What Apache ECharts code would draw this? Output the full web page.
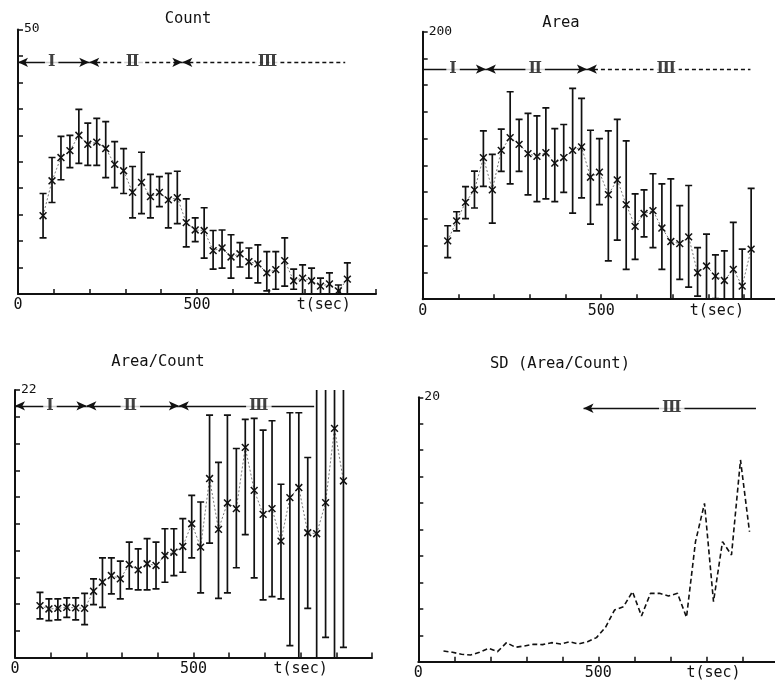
<!DOCTYPE html>
<html><head><meta charset="utf-8">
<script src="https://cdn.jsdelivr.net/npm/echarts@6/dist/echarts.min.js"></script>
<style>html,body{margin:0;padding:0;background:#fff}#c{width:775px;height:684px}</style>
</head><body><div id="c"></div>
<script>
// ---------- data ----------
const times = [70,95,120,145,170,195,220,245,270,295,320,345,370,395,420,445,470,495,520,545,570,595,620,645,670,695,720,745,770,795,820,845,870,895,920];

const countMean = [14.8,21.4,25.8,27.1,30.0,28.3,28.7,27.5,24.5,23.3,19.2,21.1,18.4,19.2,17.8,18.2,13.5,12.1,12.0,8.2,8.7,7.0,7.6,6.1,5.7,4.0,4.6,6.3,2.5,3.0,2.5,1.5,1.9,0.6,2.8];
const countHigh = [19.0,25.8,29.8,30.0,34.9,32.3,33.2,32.6,28.8,27.5,24.1,26.8,22.6,22.2,22.8,23.2,18.0,14.4,16.3,12.0,12.1,11.2,9.7,8.7,9.3,8.0,8.0,10.6,4.7,5.5,4.9,3.0,4.0,1.7,5.9];
const countLow  = [10.6,17.3,21.6,23.9,24.7,24.3,24.3,22.0,20.1,19.0,14.4,15.2,14.4,16.5,12.5,13.3,8.9,9.9,6.8,4.7,4.9,3.0,5.1,3.0,2.1,0.6,0.9,1.5,0.9,0,0,0,0,0,0];

const areaMean = [43.6,58.6,72.4,81.7,105.8,81.7,111.3,120.8,115.8,108.8,106.8,109.5,101.7,105.8,111.3,113.8,91.2,95.0,78.2,89.2,70.7,54.4,64.1,66.2,53.2,43.1,41.6,46.6,19.8,24.8,17.3,14.0,22.3,9.8,37.4];
const areaHigh = [54.9,65.4,84.2,95.7,125.8,108.3,127.1,155.1,134.4,138.9,137.1,143.1,127.6,130.6,157.7,150.1,126.3,120.1,125.8,134.4,118.3,78.7,81.7,93.8,86.2,90.0,69.9,85.0,38.6,48.6,33.1,36.1,57.4,37.4,82.9];
const areaLow  = [31.1,51.1,60.2,68.2,84.4,56.9,95.5,86.2,95.5,78.0,72.9,75.0,72.9,79.9,64.4,75.7,56.2,70.7,28.6,44.1,22.3,29.8,46.6,38.6,22.3,0,14.8,9.0,2.3,0,0.5,0,0,0,0];

const ratioMean = [4.27,3.99,4.04,4.13,4.08,4.04,5.45,6.19,6.74,6.47,7.65,7.21,7.71,7.57,8.39,8.66,9.13,11.0,9.08,14.72,10.54,12.71,12.24,17.28,13.75,11.77,12.24,9.57,13.15,13.98,10.26,10.18,12.74,18.84,14.52];
const ratioHigh = [5.36,4.82,4.82,4.90,4.90,5.28,6.47,8.20,8.20,7.92,9.49,8.94,9.77,9.49,10.59,10.59,11.42,13.34,12.79,19.94,16.04,19.94,17.19,19.59,19.67,18.70,19.47,14.25,20.13,20.13,16.45,26,26,26,26];
const ratioLow  = [3.17,3.03,3.09,3.30,3.09,2.70,4.35,4.13,5.23,4.82,5.64,5.56,5.56,5.64,6.19,6.74,7.01,8.20,5.31,9.41,4.87,5.31,7.38,10.10,6.55,4.74,5.01,4.82,0.97,0,4.04,0,1.65,0,0.83];

const sdValues = [0.81,0.71,0.56,0.51,0.71,1.01,0.76,1.44,1.09,1.19,1.32,1.29,1.44,1.34,1.51,1.34,1.51,1.82,2.60,3.91,4.16,5.30,3.46,5.17,5.17,4.97,5.17,3.36,9.08,11.98,4.54,9.08,8.07,15.26,9.83];

const titles = ['Count','Area','Area/Count','SD (Area/Count)'];
const yMaxes = [50, 200, 22, 20];
const yIntervals = [5, 20, 2.2, 2];
const xTickLabels = ['0','500','t(sec)'];

// phase annotations: boundaries in seconds, level in axis units
const phaseLevel = [43.8, 172, 20.7, 19.17];
const phaseBounds1 = [0, 199, 459, 914];
const phaseBounds2 = [0, 177, 460, 918];
const phaseBounds3 = [0, 200, 459, 838];
const phaseBounds4 = [459, 938];
const phaseNames = ['Ⅰ','Ⅱ','Ⅲ'];
const phaseLabelAt1 = [94, 320, 697];
const phaseLabelAt2 = [85, 315, 682];
const phaseLabelAt3 = [98, 323, 683];
const phaseLabelAt4 = [704];

// ---------- styles ----------
const INK = '#111';
const FONT = 'DejaVu Sans Mono';
const grids = [
  {left:18, top:29.5, width:358, height:264.5},
  {left:422.7, top:31.7, width:357, height:267.5},
  {left:15, top:390, width:357, height:267.5},
  {left:418.3, top:397.3, width:360, height:264.4}
];
const tLabelAt = [854, 824, 800, 820];
const titlePos = [[188,11], [561,15], [158,354], [560,356]];

function xAxisCfg(gi){
  return {type:'value', gridIndex:gi, min:0, max:1000, interval:100,
    axisLine:{show:true, onZero:false, lineStyle:{color:INK, width:2}},
    axisTick:{show:true, inside:true, length:5, lineStyle:{color:INK, width:1.5}},
    axisLabel:{show:true, customValues:[0,500,tLabelAt[gi]], margin:4,
      formatter:v => v===0 ? xTickLabels[0] : (v===500 ? xTickLabels[1] : xTickLabels[2]),
      color:INK, fontFamily:FONT, fontSize:15},
    splitLine:{show:false}};
}
function yAxisCfg(gi){
  return {type:'value', gridIndex:gi, min:0, max:yMaxes[gi], interval:yIntervals[gi],
    axisLine:{show:true, onZero:false, lineStyle:{color:INK, width:2}},
    axisTick:{show:true, inside:true, length:5, lineStyle:{color:INK, width:1.5}},
    axisLabel:{show:true, inside:true, customValues:[yMaxes[gi]], margin:6,
      formatter:v => String(v), color:INK, fontFamily:FONT, fontSize:13, verticalAlign:'bottom', padding:[0,0,-6,0]},
    splitLine:{show:false}};
}
function errSeries(gi, mean, lo, hi){
  const yMax = yMaxes[gi];
  return {type:'custom', xAxisIndex:gi, yAxisIndex:gi, z:3, silent:true, clip:true,
    data: times.map((t,i)=>[t, mean[i], lo[i], hi[i]]),
    encode:{x:0, y:[1,2,3]},
    renderItem:(params, api)=>{
      const t=api.value(0), m=api.value(1), l=api.value(2), h=api.value(3);
      const pm=api.coord([t,m]), pl=api.coord([t,Math.max(l,0)]), ph=api.coord([t,Math.min(h,yMax)]);
      const st={stroke:INK, lineWidth:1.7};
      const cw=3.5, mk=3.4;
      const ch=[{type:'line', shape:{x1:pl[0],y1:pl[1],x2:ph[0],y2:ph[1]}, style:st}];
      if (h<=yMax) ch.push({type:'line', shape:{x1:ph[0]-cw,y1:ph[1],x2:ph[0]+cw,y2:ph[1]}, style:st});
      if (l>0) ch.push({type:'line', shape:{x1:pl[0]-cw,y1:pl[1],x2:pl[0]+cw,y2:pl[1]}, style:st});
      ch.push({type:'line', shape:{x1:pm[0]-mk,y1:pm[1]-mk,x2:pm[0]+mk,y2:pm[1]+mk}, style:{stroke:INK,lineWidth:1.5}});
      ch.push({type:'line', shape:{x1:pm[0]-mk,y1:pm[1]+mk,x2:pm[0]+mk,y2:pm[1]-mk}, style:{stroke:INK,lineWidth:1.5}});
      return {type:'group', children:ch};
    }};
}
// styles per segment: [dashed, fromSymbol, toSymbol]
function phaseMarkLine(gi, bounds, styles){
  const y = phaseLevel[gi];
  const data = [];
  for (let i=0;i<bounds.length-1;i++){
    const s = styles[i];
    data.push([
      {coord:[bounds[i], y], symbol:s[1], lineStyle:{type: s[0] ? [4,3] : 'solid', color:INK, width:1.3}},
      {coord:[bounds[i+1], y], symbol:s[2]}
    ]);
  }
  return {silent:true, animation:false, symbolSize:[7,10], label:{show:false},
    lineStyle:{color:INK, width:1.3}, data};
}
function phaseLabels(gi, at, names){
  const y = phaseLevel[gi];
  return {type:'scatter', xAxisIndex:gi, yAxisIndex:gi, z:10, silent:true, symbolSize:1,
    itemStyle:{color:'rgba(0,0,0,0)'},
    data: at.map((x,i)=>[x, y, names[i]]),
    label:{show:true, position:'inside', formatter:p=>p.value[2], color:INK,
      fontFamily:'DejaVu Serif', fontWeight:'bold', fontSize:16, backgroundColor:'#fff', padding:[0,3]}};
}
function meanLine(gi, mean, markLine){
  return {type:'line', xAxisIndex:gi, yAxisIndex:gi, z:2, silent:true, symbol:'none',
    data: times.map((t,i)=>[t, mean[i]]),
    lineStyle:{color:'#555', width:0.8, type:[2,2]}, markLine};
}

const option = {
  animation:false,
  backgroundColor:'#fff',
  title: titles.map((t,i)=>({text:t, left:titlePos[i][0], top:titlePos[i][1], textAlign:'center', padding:0,
    textStyle:{color:INK, fontFamily:FONT, fontSize:15.5, fontWeight:'normal'}})),
  grid: grids.map(g=>Object.assign({containLabel:false, outerBoundsMode:'none'}, g)),
  xAxis: [0,1,2,3].map(xAxisCfg),
  yAxis: [0,1,2,3].map(yAxisCfg),
  series: [
    meanLine(0, countMean, phaseMarkLine(0, phaseBounds1, [[false,'arrow','arrow'],[true,'arrow','arrow'],[true,'arrow','none']])),
    errSeries(0, countMean, countLow, countHigh),
    phaseLabels(0, phaseLabelAt1, phaseNames),

    meanLine(1, areaMean, phaseMarkLine(1, phaseBounds2, [[false,'none','arrow'],[false,'arrow','arrow'],[true,'arrow','none']])),
    errSeries(1, areaMean, areaLow, areaHigh),
    phaseLabels(1, phaseLabelAt2, phaseNames),

    meanLine(2, ratioMean, phaseMarkLine(2, phaseBounds3, [[false,'arrow','arrow'],[false,'arrow','arrow'],[false,'arrow','none']])),
    errSeries(2, ratioMean, ratioLow, ratioHigh),
    phaseLabels(2, phaseLabelAt3, phaseNames),

    {type:'line', xAxisIndex:3, yAxisIndex:3, z:2, silent:true, symbol:'none',
      data: times.map((t,i)=>[t, sdValues[i]]),
      lineStyle:{color:INK, width:1.6, type:[5,3]},
      markLine: phaseMarkLine(3, phaseBounds4, [[false,'arrow','none']])},
    phaseLabels(3, phaseLabelAt4, [phaseNames[2]])
  ]
};
const chart = echarts.init(document.getElementById('c'), null, {renderer:'canvas'});
chart.setOption(option);
</script></body></html>
